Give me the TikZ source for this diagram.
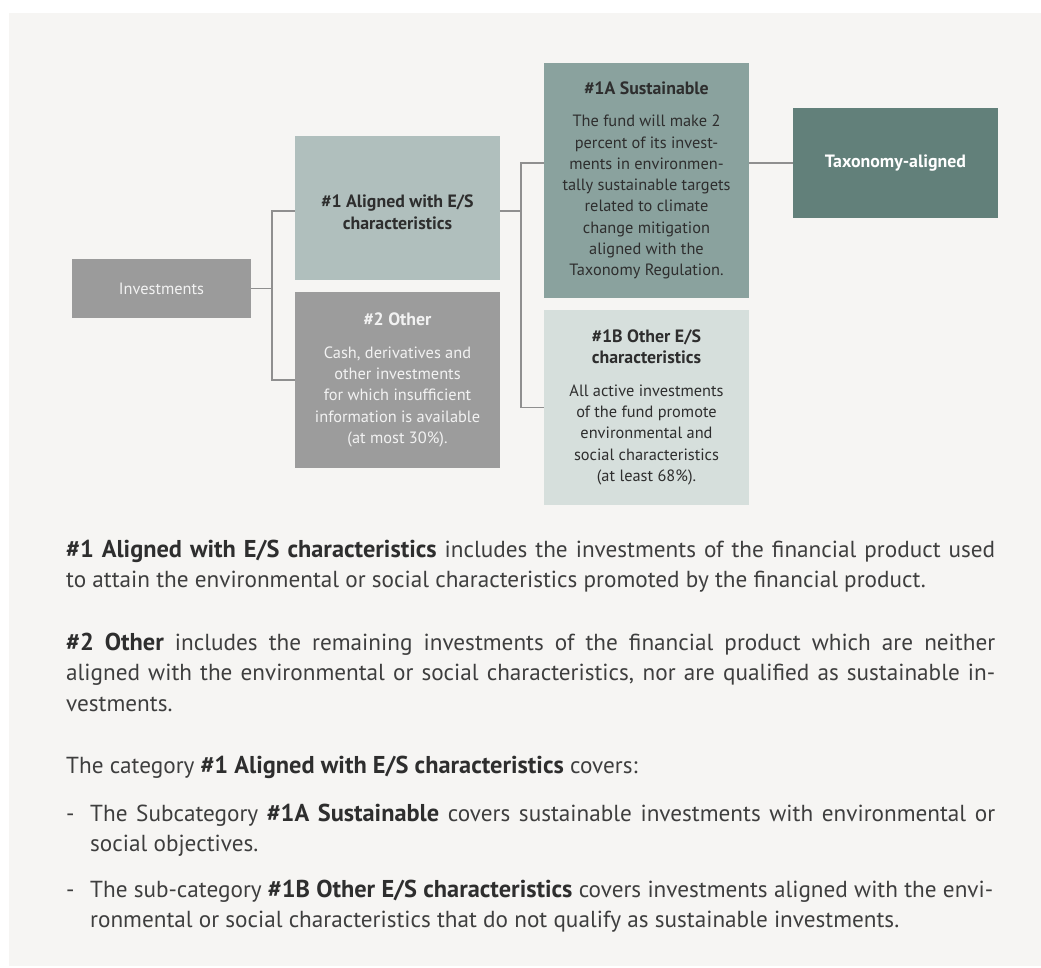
\documentclass[tikz,border=0pt]{standalone}
\usepackage{fontspec}
\setmainfont{PT Sans}
\definecolor{panelbg}{HTML}{F6F5F3}
\definecolor{invgray}{HTML}{9B9B9B}
\definecolor{alignc}{HTML}{B0BFBD}
\definecolor{otherc}{HTML}{9C9C9C}
\definecolor{sustc}{HTML}{8AA29E}
\definecolor{taxc}{HTML}{62807A}
\definecolor{othesc}{HTML}{D6DFDC}
\definecolor{linegray}{HTML}{8F8F8F}
\definecolor{darktext}{HTML}{2E2E2E}
\definecolor{maintext}{HTML}{3E3E3E}
\definecolor{lighttext}{HTML}{F2F2F2}
\newlength\calA
\newlength\calB
\AtBeginDocument{%
\settowidth\calA{\normalfont\fontsize{10pt}{12pt}\selectfont ronmental or social characteristics that do not qualify as sustainable investments.}%
\settowidth\calB{\normalfont\fontsize{10pt}{12pt}\selectfont tally sustainable targets}%
\pgfmathsetmacro\mainsize{10*809/\calA}%
\pgfmathsetmacro\boxsize{10*168/\calB}%
\pgfmathsetmacro\mainbsize{\mainsize*1.05}%
\pgfmathsetmacro\titlesize{\boxsize*1.09}%
\xdef\mainsize{\mainsize}\xdef\boxsize{\boxsize}%
\xdef\mainbsize{\mainbsize}\xdef\titlesize{\titlesize}}
\def\mainfs{\fontsize{\mainsize pt}{30.7pt}\selectfont}
\def\boxfs{\fontsize{\boxsize pt}{21.3pt}\selectfont}
\def\B#1{{\fontsize{\mainbsize pt}{30.7pt}\bfseries\color{darktext}#1}}
\def\T#1{{\fontsize{\titlesize pt}{21.3pt}\bfseries #1}}
\tikzset{
  box/.style={rectangle, inner sep=0pt, align=center, font=\boxfs},
  conn/.style={draw=linegray, line width=1.1pt},
  para/.style={anchor=base west, inner sep=0pt, text=maintext},
}
\begin{document}
\begin{tikzpicture}[x=1pt,y=-1pt]
\useasboundingbox (0,0) rectangle (1041,967);
\fill[white] (0,0) rectangle (1041,967);
\fill[panelbg] (9,13) rectangle (1041,966);

% boxes
\node[box, fill=invgray, minimum width=179pt, minimum height=59pt, text=lighttext] (inv) at (161.5,288.5) {Investments};
\node[box, fill=alignc, minimum width=205pt, minimum height=144pt, text=darktext] (a1) at (397.5,208) {\rule{0pt}{21pt}\T{\#1 Aligned with E/S}\\\T{characteristics}};
\node[box, fill=otherc, minimum width=205pt, minimum height=176pt, text=lighttext] (o2) at (397.5,380) {\T{\#2 Other}\\[11pt]Cash, derivatives and\\other investments\\for which insufficient\\information is available\\(at most 30\%).};
\node[box, fill=sustc, minimum width=205pt, minimum height=235pt, text=darktext] (s1a) at (646.5,180.5) {\T{\#1A Sustainable}\\[11pt]The fund will make 2\\percent of its invest-\\ments in environmen-\\tally sustainable targets\\related to climate\\change mitigation\\aligned with the\\Taxonomy Regulation.};
\node[box, fill=taxc, minimum width=205pt, minimum height=110pt, text=white] (tax) at (895.5,163) {\T{Taxonomy-aligned}};
\node[box, fill=othesc, minimum width=205pt, minimum height=195pt, text=darktext] (b1b) at (646.5,407.5) {\T{\#1B Other E/S}\\\T{characteristics}\\[11pt]All active investments\\of the fund promote\\environmental and\\social characteristics\\(at least 68\%).};

% connectors
\coordinate (j1) at (272,288.5);
\coordinate (j2) at (521,211);
\draw[conn] (inv.east) -- (j1);
\draw[conn] (j1) |- ([yshift=-3pt]a1.west);
\draw[conn] (j1) |- (o2.west);
\draw[conn] ([yshift=-3pt]a1.east) -- (j2);
\draw[conn] (j2) |- (s1a.west |- tax.west);
\draw[conn] (j2) |- (b1b.west);
\draw[conn] (s1a.east |- tax.west) -- (tax.west);

% text
\node[para] (p1) at (66,557) {\vtop{\mainfs\hsize=929pt
\hbox to 929pt{\B{\#1 Aligned with E/S characteristics} includes the investments of the financial product used}
\hbox{to attain the environmental or social characteristics promoted by the financial product.}}};
\node[para] (p2) at (66,650) {\vtop{\mainfs\hsize=929pt
\hbox to 929pt{\B{\#2 Other} includes the remaining investments of the financial product which are neither}
\hbox to 929pt{aligned with the environmental or social characteristics, nor are qualified as sustainable in-}
\hbox{vestments.}}};
\node[para] (p3) at (66,773) {\vtop{\mainfs\hsize=929pt
\hbox{The category \B{\#1 Aligned with E/S characteristics} covers:}}};
\node[para] (b1) at (66,821) {\vtop{\mainfs\hsize=929pt
\hbox{\hbox to 24pt{-\hfil}\hbox to 905pt{The Subcategory \B{\#1A Sustainable} covers sustainable investments with environmental or}}
\hbox{\hskip24pt social objectives.}}};
\node[para] (b2) at (66,897) {\vtop{\mainfs\hsize=929pt
\hbox{\hbox to 24pt{-\hfil}\hbox to 903pt{The sub-category \B{\#1B Other E/S characteristics} covers investments aligned with the envi-}}
\hbox{\hskip24pt ronmental or social characteristics that do not qualify as sustainable investments.}}};
\end{tikzpicture}
\end{document}
